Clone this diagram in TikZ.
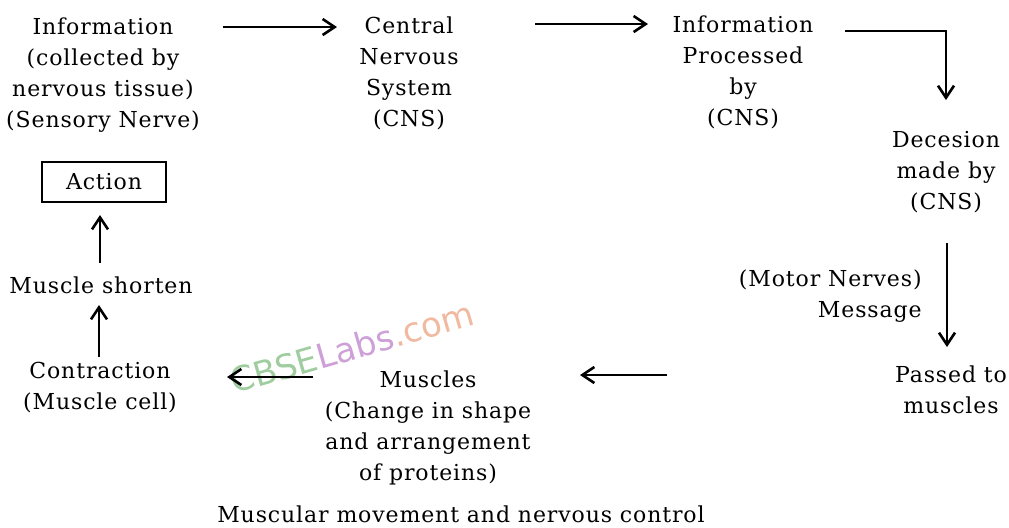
\documentclass[tikz,border=0pt]{standalone}
\usepackage{fontspec}
\setmainfont{DejaVu Serif}[LetterSpace=4]
\newfontfamily\wmfont{DejaVu Sans}
\usetikzlibrary{arrows.meta,calc}
\definecolor{wmgreen}{RGB}{160,205,160}
\definecolor{wmlilac}{RGB}{205,160,215}
\definecolor{wmpeach}{RGB}{240,185,160}
\begin{document}
\begin{tikzpicture}[x=0.5pt,y=-0.5pt,
  lbl/.style={inner sep=0pt,align=center,font=\fontsize{11}{15.5}\selectfont},
  boxed/.style={lbl,draw,line width=1pt,minimum width=62pt,minimum height=20pt},
  arr/.style={line width=1.3pt,-{Straight Barb[length=6pt,width=8pt]}},
]
\useasboundingbox (0,0) rectangle (1009,527);
% watermark
\node[rotate=16,inner sep=0pt,font=\wmfont\fontsize{17}{17}\selectfont] (wm) at (352,347)
  {\textcolor{wmgreen}{CBSE}\textcolor{wmlilac}{Labs}\textcolor{wmpeach}{.com}};
% nodes
\node[lbl] (info) at (103,75) {Information\\(collected by\\nervous tissue)\\(Sensory Nerve)};
\node[lbl] (cns) at (409,73) {Central\\Nervous\\System\\(CNS)};
\node[lbl] (proc) at (743,72) {Information\\Processed\hspace{12pt}\\by\\(CNS)};
\node[lbl] (dec) at (946,172) {Decesion\\made by\\(CNS)};
\node[lbl,align=right,anchor=east] (motor) at (922,296) {(Motor Nerves)\\Message};
\node[lbl] (passed) at (951,390) {Passed to\\muscles};
\node[lbl] (muscles) at (428,428) {Muscles\\(Change in shape\\and arrangement\\of proteins)};
\node[lbl] (contr) at (100,388) {Contraction\\(Muscle cell)};
\node[lbl] (shorten) at (101,285) {Muscle shorten};
\node[boxed] (action) at (104,181.5) {Action};
\node[lbl] (caption) at (461,514) {Muscular movement and nervous control};
% connector end points, taken from the nodes
\coordinate (a1s) at ($(info.center)+(120,-48)$);
\coordinate (a1e) at ($(cns.center)+(-72,0)$);
\coordinate (a2s) at ($(cns.center)+(126,-49)$);
\coordinate (a2e) at ($(proc.center)+(-95,0)$);
\coordinate (a3s) at ($(proc.center)+(102,-41)$);
\coordinate (a3e) at ($(dec.center)+(0,-72)$);
\coordinate (a4s) at ($(dec.center)+(1,71)$);
\coordinate (a4e) at ($(passed.center)+(0,-43)$);
\coordinate (a5s) at ($(passed.center)+(-284,-15)$);
\coordinate (a5e) at ($(muscles.center)+(152,0)$);
\coordinate (a6s) at ($(muscles.center)+(-115,-51)$);
\coordinate (a6e) at ($(contr.center)+(127,0)$);
\coordinate (a7s) at ($(contr.center)+(-1,-31)$);
\coordinate (a7e) at ($(shorten.center)+(0,20)$);
\coordinate (a8s) at ($(shorten.center)+(-1,-22)$);
\coordinate (a8e) at ($(action.center)+(0,33.5)$);
% connectors
\draw[arr] (a1s) -- (a1s -| a1e);
\draw[arr] (a2s) -- (a2s -| a2e);
\draw[arr] (a3s) -| (a3e);
\draw[arr] (a4s) -- (a4s |- a4e);
\draw[arr] (a5s) -- (a5s -| a5e);
\draw[arr] (a6s) -- (a6s -| a6e);
\draw[arr] (a7s) -- (a7s |- a7e);
\draw[arr] (a8s) -- (a8s |- a8e);
\end{tikzpicture}
\end{document}
